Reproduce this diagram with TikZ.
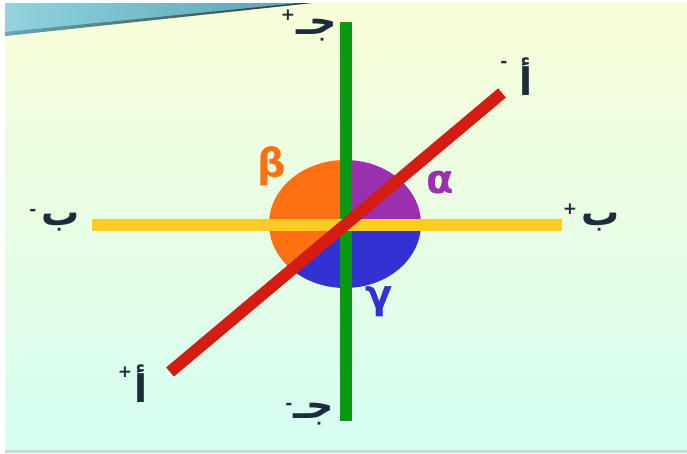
\documentclass[tikz,border=0pt]{standalone}
\usepackage{fontspec}
\setmainfont{DejaVu Sans}
\newfontfamily\arabicfont[Script=Arabic]{DejaVu Sans}
\TeXXeTstate=1
\definecolor{bgtop}{HTML}{F8FDD8}
\definecolor{bgmid}{HTML}{E8FDE4}
\definecolor{bgbot}{HTML}{D4FEF2}
\definecolor{tealL}{HTML}{94D2DE}
\definecolor{tealR}{HTML}{4FA4B4}
\definecolor{greenC}{HTML}{0A9A12}
\definecolor{yellowC}{HTML}{FFCC22}
\definecolor{redC}{HTML}{D41C12}
\definecolor{orangeC}{HTML}{FF7012}
\definecolor{purpleC}{HTML}{9A30B0}
\definecolor{blueC}{HTML}{3232D2}
\definecolor{inkC}{HTML}{1C2C3C}
\begin{document}
\begin{tikzpicture}[x=1pt,y=-1pt,
  axis/.style={line width=12pt},
  greek/.style={font=\bfseries\fontsize{40}{46}\selectfont, inner sep=0pt},
  arlbl/.style={font=\arabicfont\bfseries\fontsize{38}{44}\selectfont, text=inkC, inner sep=0pt},
  sgn/.style={font=\bfseries\fontsize{17}{19}\selectfont, text=inkC, inner sep=0pt}]
\useasboundingbox (0,0) rectangle (687,453);
\fill[white] (0,0) rectangle (687,453);
\shade[top color=bgtop, bottom color=bgbot, middle color=bgmid] (5,3) rectangle (687,450);
\fill[color={rgb,255:red,200;green,216;blue,208}] (5,450) rectangle (687,453);
% teal wedge
\shade[left color=tealL, right color=tealR] (5,3) -- (312,3) -- (5,36) -- cycle;
\shade[left color=tealR!70!gray, right color=black!85!brown, opacity=0.75] (5,32) -- (300,3) -- (312,3) -- (5,36) -- cycle;
% sectors
\coordinate (O) at (345,224);
\fill[purpleC] (O) -- ++(76,0) arc[start angle=0, end angle=-90, x radius=76, y radius=64] -- cycle;
\fill[orangeC] (O) -- ++(0,-64) arc[start angle=-90, end angle=-225, x radius=76, y radius=64] -- cycle;
\fill[blueC] (O) -- ++({76*cos(135)},{64*sin(135)}) arc[start angle=135, end angle=0, x radius=76, y radius=64] -- cycle;
% axes
\coordinate (gT) at (346,22);
\coordinate (gB) at (346,421);
\coordinate (yL) at (92,225);
\coordinate (yR) at (562,225);
\coordinate (rL) at (170,372);
\coordinate (rR) at (502,93);
\draw[axis, greenC] (gT) -- (gB);
\draw[axis, yellowC] (yL) -- (yR);
\draw[axis, redC] (rL) -- (rR);
% greek labels
\node[greek, text=orangeC] (beta) at (272,166) {β};
\node[greek, text=purpleC] (alpha) at (440,183) {α};
\node[greek, text=blueC] (gamma) at (379,302) {γ};
% arabic labels
\node[arlbl] (jT) at (317,30) {\beginR جـ\endR};
\node[sgn] (jTs) at (288,15) {+};
\node[arlbl] (jB) at (314,414) {\beginR جـ\endR};
\node[sgn] (jBs) at (289,406) {-};
\node[arlbl] (aT) at (526,77) {\beginR أ\endR};
\node[sgn] (aTs) at (504,64) {-};
\node[arlbl] (aB) at (141,384) {\beginR أ\endR};
\node[sgn] (aBs) at (125,372) {+};
\node[arlbl] (bR) at (601,222) {\beginR ب\endR};
\node[sgn] (bRs) at (570,209) {+};
\node[arlbl] (bL) at (61,222) {\beginR ب\endR};
\node[sgn] (bLs) at (33,212) {-};
\end{tikzpicture}
\end{document}
